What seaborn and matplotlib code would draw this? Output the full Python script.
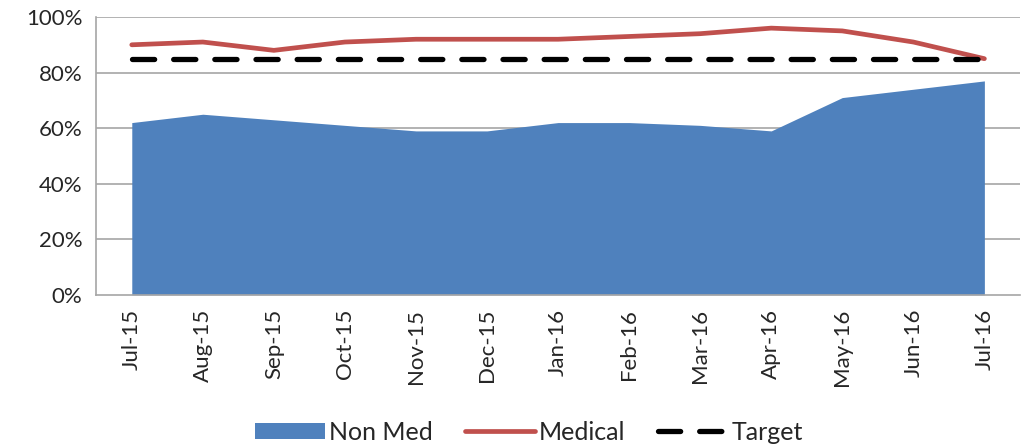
import matplotlib
matplotlib.use("Agg")
import matplotlib.pyplot as plt
from matplotlib.patches import Patch
from matplotlib.lines import Line2D
from matplotlib.ticker import FuncFormatter, FixedLocator
import seaborn as sns
import pandas as pd
import numpy as np

months = ["Jul-15", "Aug-15", "Sep-15", "Oct-15", "Nov-15", "Dec-15", "Jan-16",
          "Feb-16", "Mar-16", "Apr-16", "May-16", "Jun-16", "Jul-16"]
non_med = [62, 65, 63, 61, 59, 59, 62, 62, 61, 59, 71, 74, 77]
medical = [90, 91, 88, 91, 92, 92, 92, 93, 94, 96, 95, 91, 85]
target = [85] * len(months)

sns.set_theme(style="white")
plt.rcParams["font.family"] = ["Lato", "DejaVu Sans"]

df = pd.DataFrame({"month": months, "pos": np.arange(len(months)),
                   "Non Med": non_med, "Medical": medical, "Target": target})

fig = plt.figure(figsize=(10.24, 4.48), dpi=100)
ax = fig.add_axes([0.094, 0.342, 0.902, 0.62])

blue = "#4F81BD"
red = "#C0504D"

# horizontal gridlines under everything
for v in [20, 40, 60, 80, 100]:
    ax.axhline(v, color="#A6A6A6", lw=1.2, zorder=0)

ax.fill_between(df["pos"], 0, df["Non Med"], color=blue, lw=0, zorder=1)
sns.lineplot(data=df, x="pos", y="Medical", color=red, lw=3.4, ax=ax, zorder=3)
sns.lineplot(data=df, x="pos", y="Target", color="black", lw=3.8, ax=ax, zorder=3)
ax.lines[-1].set_dashes([4.2, 3.6])
ax.lines[-1].set_dash_capstyle("round")

ax.set_xlim(-0.5, len(months) - 0.5)
ax.set_ylim(0, 100)
ax.set_xticks(df["pos"])
ax.set_xticklabels(months, rotation=90, fontsize=16)
ax.xaxis.set_minor_locator(FixedLocator(np.arange(-0.5, len(months), 1.0)))
ax.tick_params(axis="x", which="major", length=0, pad=10)
ax.tick_params(axis="x", which="minor", length=7, width=1.2, color="#A6A6A6", direction="out")
ax.set_yticks([0, 20, 40, 60, 80, 100])
ax.yaxis.set_major_formatter(FuncFormatter(lambda v, p: f"{int(v)}%"))
ax.tick_params(axis="y", length=6, width=1.2, color="#A6A6A6", direction="out", labelsize=16, pad=4)
ax.set_xlabel("")
ax.set_ylabel("")

for s in ["top", "right"]:
    ax.spines[s].set_visible(False)
for s in ["left", "bottom"]:
    ax.spines[s].set_color("#A6A6A6")
    ax.spines[s].set_linewidth(1.2)

handles = [
    Patch(facecolor=blue, edgecolor="none", label="Non Med"),
    Line2D([0], [0], color=red, lw=3.4, label="Medical"),
    Line2D([0], [0], color="black", lw=3.8, dashes=[4.2, 3.6], dash_capstyle="round", label="Target"),
]
fig.legend(handles=handles, loc="center", bbox_to_anchor=(0.517, 0.035), ncol=3,
           frameon=False, fontsize=18, handlelength=2.8, handleheight=0.65,
           columnspacing=1.3, handletextpad=0.15)

fig.savefig("out.png", dpi=100)
